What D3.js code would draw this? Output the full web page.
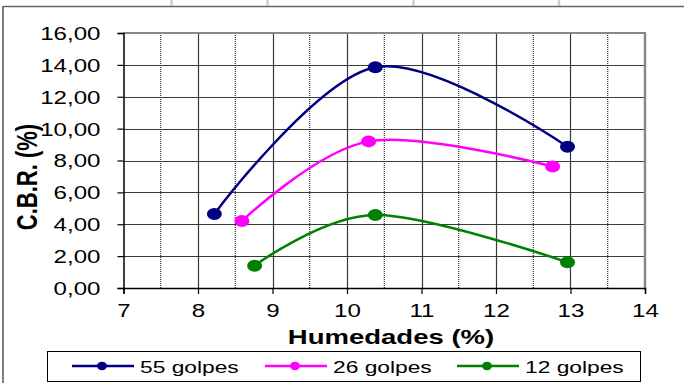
<!DOCTYPE html>
<html>
<head>
<meta charset="utf-8">
<script src="https://cdn.jsdelivr.net/npm/d3@7"></script>
<style>
html,body{margin:0;padding:0;background:#fff;}
svg{display:block;font-family:"Liberation Sans",Arial,sans-serif;}
</style>
</head>
<body>
<svg id="chart" width="684" height="383"></svg>
<script>
// ---- data ----
const seriesNames = ["55 golpes", "26 golpes", "12 golpes"];
const seriesColors = ["#000080", "#FF00FF", "#008000"];
const humedad55 = [8.22, 10.38, 12.96];
const cbr55 = [4.65, 13.85, 8.86];
const humedad26 = [8.59, 10.29, 12.76];
const cbr26 = [4.20, 9.20, 7.62];
const humedad12 = [8.76, 10.38, 12.96];
const cbr12 = [1.40, 4.58, 1.61];
const xTicks = [7, 8, 9, 10, 11, 12, 13, 14];
const yTicks = [0, 2, 4, 6, 8, 10, 12, 14, 16];

const series = [
  {name: seriesNames[0], color: seriesColors[0], xs: humedad55, ys: cbr55},
  {name: seriesNames[1], color: seriesColors[1], xs: humedad26, ys: cbr26},
  {name: seriesNames[2], color: seriesColors[2], xs: humedad12, ys: cbr12}
];

const SX = 1.34; // horizontal text stretch
const svg = d3.select("#chart");

// background spreadsheet hints
[171.5, 267.5, 413.5, 559].forEach(x => {
  svg.append("line").attr("x1", x).attr("x2", x).attr("y1", 0).attr("y2", 6)
    .attr("stroke", "#cfcfcf").attr("stroke-width", 2.5);
});
// outer chart border
svg.append("line").attr("x1", 3).attr("x2", 684).attr("y1", 6.5).attr("y2", 6.5)
  .attr("stroke", "#666").attr("stroke-width", 1.5);
svg.append("line").attr("x1", 3).attr("x2", 3).attr("y1", 6).attr("y2", 383)
  .attr("stroke", "#555").attr("stroke-width", 1.5);

const x = d3.scaleLinear().domain([7, 14]).range([123.5, 645]);
const y = d3.scaleLinear().domain([0, 16]).range([288, 33]);

const g = svg.append("g");

// minor vertical gridlines (dotted)
d3.range(7.5, 14, 1).forEach(v => {
  g.append("line").attr("x1", x(v)).attr("x2", x(v)).attr("y1", y(16)).attr("y2", y(0))
    .attr("stroke", "#000").attr("stroke-width", 1).attr("stroke-dasharray", "1,1");
});
// major vertical gridlines
xTicks.slice(1, -1).forEach(v => {
  g.append("line").attr("x1", Math.round(x(v)) + 0.5).attr("x2", Math.round(x(v)) + 0.5)
    .attr("y1", y(16)).attr("y2", y(0))
    .attr("stroke", "#3a3a3a").attr("stroke-width", 1.2);
});
// horizontal gridlines
yTicks.slice(1, -1).forEach(v => {
  g.append("line").attr("x1", x(7)).attr("x2", x(14))
    .attr("y1", Math.round(y(v)) + 0.5).attr("y2", Math.round(y(v)) + 0.5)
    .attr("stroke", "#3a3a3a").attr("stroke-width", 1.2);
});
// plot border top/right (gray)
g.append("line").attr("x1", x(7)).attr("x2", x(14) + 1).attr("y1", y(16)).attr("y2", y(16))
  .attr("stroke", "#888").attr("stroke-width", 2);
g.append("line").attr("x1", x(14)).attr("x2", x(14)).attr("y1", y(16)).attr("y2", y(0))
  .attr("stroke", "#888").attr("stroke-width", 2.5);

// axes
const fmt = d => d3.format(".2f")(d).replace(".", ",");
const yAxis = d3.axisLeft(y).tickValues(yTicks).tickSize(6).tickPadding(9).tickFormat(fmt);
const xAxis = d3.axisBottom(x).tickValues(xTicks).tickSize(6).tickPadding(8).tickFormat(d3.format("d"));

const ya = svg.append("g").attr("transform", `translate(${x(7)},0)`).call(yAxis);
const xa = svg.append("g").attr("transform", `translate(0,${y(0)})`).call(xAxis);
[ya, xa].forEach(a => {
  a.select(".domain").attr("stroke", "#000").attr("stroke-width", 1.5);
  a.selectAll(".tick line").attr("stroke", "#000").attr("stroke-width", 1.2);
  a.selectAll("text").attr("font-size", 18).attr("fill", "#000")
    .attr("font-family", '"Liberation Sans",Arial,sans-serif');
});
ya.selectAll(".tick text").each(function() {
  const t = d3.select(this);
  const xx = +t.attr("x");
  t.attr("x", null).attr("transform", `translate(${xx - 8},0) scale(${SX},1)`).attr("dy", "0.36em");
});
xa.selectAll(".tick text").each(function() {
  const t = d3.select(this);
  const yy = +t.attr("y");
  t.attr("y", null).attr("transform", `translate(0,${yy + 2}) scale(${SX},1)`);
});

// axis titles
svg.append("text").attr("transform", `translate(391,344) scale(${SX - 0.03},1)`)
  .attr("text-anchor", "middle").attr("font-weight", "bold").attr("font-size", 21)
  .text("Humedades (%)");
svg.append("text").attr("transform", `translate(37,177) scale(${SX},1) rotate(-90)`)
  .attr("text-anchor", "middle").attr("font-weight", "bold").attr("font-size", 22)
  .text("C.B.R. (%)");

// series
const line = d3.line().x(d => x(d[0])).y(d => y(d[1])).curve(d3.curveCardinal.tension(0));
series.forEach(s => {
  const pts = s.xs.map((v, i) => [v, s.ys[i]]);
  svg.append("path").datum(pts).attr("d", line).attr("fill", "none")
    .attr("stroke", s.color).attr("stroke-width", 2.5);
  svg.selectAll(null).data(pts).enter().append("ellipse")
    .attr("cx", d => x(d[0])).attr("cy", d => y(d[1]))
    .attr("rx", 7.5).attr("ry", 6).attr("fill", s.color);
});

// legend
svg.append("rect").attr("x", 47.5).attr("y", 351.5).attr("width", 593).attr("height", 30)
  .attr("fill", "#fff").attr("stroke", "#000").attr("stroke-width", 1);
const legX = [72, 265, 457];
series.forEach((s, i) => {
  const lg = svg.append("g").attr("transform", `translate(${legX[i]},366)`);
  lg.append("line").attr("x1", 0).attr("x2", 62).attr("y1", 0).attr("y2", 0)
    .attr("stroke", s.color).attr("stroke-width", 2.5);
  lg.append("ellipse").attr("cx", 30).attr("cy", 0).attr("rx", 5).attr("ry", 4.2).attr("fill", s.color);
  lg.append("text").attr("transform", `translate(68,6.5) scale(${SX + 0.04},1)`)
    .attr("font-size", 16.5).text(s.name);
});
</script>
</body>
</html>
